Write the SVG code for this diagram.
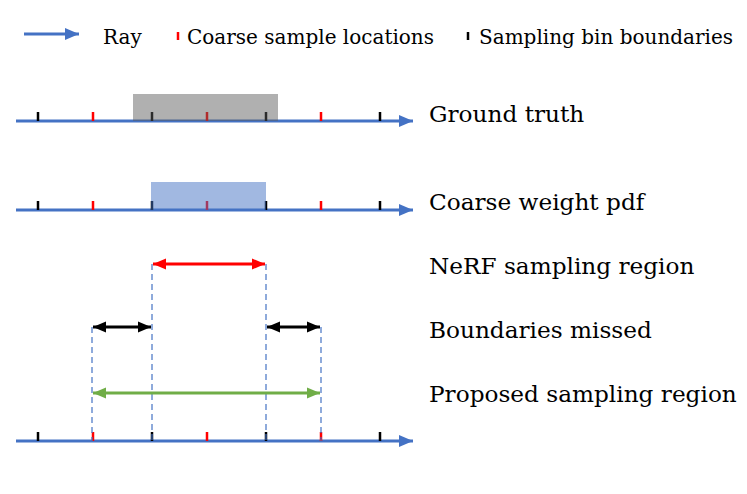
<svg xmlns="http://www.w3.org/2000/svg" width="747" height="494" viewBox="0 0 747 494">
<style>
  .ray{stroke:#4472C4;stroke-width:3;fill:none}
  .tk{stroke:#000;stroke-width:2.5}
  .tr{stroke:#FF0000;stroke-width:2.5}
  .dash{stroke:#4472C4;stroke-width:1.2;stroke-dasharray:6 4;fill:none}
  .lbl{font-family:"DejaVu Serif","Liberation Serif",serif;font-size:23.2px;fill:#000}
  .leg{font-family:"DejaVu Serif","Liberation Serif",serif;font-size:20px;fill:#000}
</style>
<defs>
  <marker id="mb" markerUnits="userSpaceOnUse" markerWidth="15" markerHeight="13" refX="14" refY="6.5" orient="auto"><path d="M0,0.5 L14,6.5 L0,12.5 z" fill="#4472C4"/></marker>
  <marker id="mr" markerUnits="userSpaceOnUse" markerWidth="14" markerHeight="12" refX="13" refY="6" orient="auto-start-reverse"><path d="M0,0.5 L13,6 L0,11.5 z" fill="#FF0000"/></marker>
  <marker id="mk" markerUnits="userSpaceOnUse" markerWidth="14" markerHeight="12" refX="13" refY="6" orient="auto-start-reverse"><path d="M0,0.5 L13,6 L0,11.5 z" fill="#000"/></marker>
  <marker id="mg" markerUnits="userSpaceOnUse" markerWidth="14" markerHeight="12" refX="13" refY="6" orient="auto-start-reverse"><path d="M0,0.5 L13,6 L0,11.5 z" fill="#70AD47"/></marker>
</defs>
<rect width="747" height="494" fill="#fff"/>

<g id="legend">
  <line class="ray" x1="24" y1="34" x2="79" y2="34" marker-end="url(#mb)"/>
  <text class="leg" x="103" y="44">Ray</text>
  <line class="tr" x1="178" y1="32" x2="178" y2="40"/>
  <text class="leg" x="187" y="44">Coarse sample locations</text>
  <line class="tk" x1="468" y1="32" x2="468" y2="40"/>
  <text class="leg" x="479" y="44">Sampling bin boundaries</text>
</g>

<g id="ground-truth">
  <line class="ray" x1="16" y1="121" x2="413" y2="121" marker-end="url(#mb)"/>
  <g>
    <line class="tk" x1="38" y1="112" x2="38" y2="121"/>
    <line class="tr" x1="93" y1="112" x2="93" y2="121"/>
    <line class="tk" x1="152" y1="112" x2="152" y2="121"/>
    <line class="tr" x1="207" y1="112" x2="207" y2="121"/>
    <line class="tk" x1="266" y1="112" x2="266" y2="121"/>
    <line class="tr" x1="321" y1="112" x2="321" y2="121"/>
    <line class="tk" x1="380" y1="112" x2="380" y2="121"/>
  </g>
  <rect x="133" y="94" width="145" height="27" fill="#5a5a5a" fill-opacity="0.48"/>
  <text class="lbl" x="429" y="122">Ground truth</text>
</g>

<g id="coarse-weight-pdf">
  <line class="ray" x1="16" y1="210" x2="413" y2="210" marker-end="url(#mb)"/>
  <g>
    <line class="tk" x1="38" y1="201" x2="38" y2="210"/>
    <line class="tr" x1="93" y1="201" x2="93" y2="210"/>
    <line class="tk" x1="152" y1="201" x2="152" y2="210"/>
    <line class="tr" x1="207" y1="201" x2="207" y2="210"/>
    <line class="tk" x1="266" y1="201" x2="266" y2="210"/>
    <line class="tr" x1="321" y1="201" x2="321" y2="210"/>
    <line class="tk" x1="380" y1="201" x2="380" y2="210"/>
  </g>
  <rect x="151" y="182" width="115" height="28" fill="#4472C4" fill-opacity="0.5"/>
  <text class="lbl" x="429" y="210">Coarse weight pdf</text>
</g>

<g id="bottom-ray">
  <line class="ray" x1="16" y1="441" x2="413" y2="441" marker-end="url(#mb)"/>
  <line class="tk" x1="38" y1="432" x2="38" y2="441"/>
  <line class="tr" x1="93" y1="432" x2="93" y2="441"/>
  <line class="tk" x1="152" y1="432" x2="152" y2="441"/>
  <line class="tr" x1="207" y1="432" x2="207" y2="441"/>
  <line class="tk" x1="266" y1="432" x2="266" y2="441"/>
  <line class="tr" x1="321" y1="432" x2="321" y2="441"/>
  <line class="tk" x1="380" y1="432" x2="380" y2="441"/>
</g>

<g id="nerf-region">
  <text class="lbl" x="429" y="274">NeRF sampling region</text>
</g>
<g id="boundaries-missed">
  <text class="lbl" x="429" y="338">Boundaries missed</text>
</g>
<g id="proposed-region">
  <text class="lbl" x="429" y="402">Proposed sampling region</text>
</g>

<g id="connectors">
  <line class="dash" x1="152" y1="264" x2="152" y2="441"/>
  <line class="dash" x1="266" y1="264" x2="266" y2="441"/>
  <line class="dash" x1="92" y1="327" x2="92" y2="441"/>
  <line class="dash" x1="321" y1="327" x2="321" y2="441"/>
  <line x1="153" y1="264" x2="265" y2="264" stroke="#FF0000" stroke-width="3" marker-start="url(#mr)" marker-end="url(#mr)"/>
  <line x1="93" y1="327" x2="151" y2="327" stroke="#000" stroke-width="3" marker-start="url(#mk)" marker-end="url(#mk)"/>
  <line x1="267" y1="327" x2="320" y2="327" stroke="#000" stroke-width="3" marker-start="url(#mk)" marker-end="url(#mk)"/>
  <line x1="93" y1="393" x2="320" y2="393" stroke="#70AD47" stroke-width="3" marker-start="url(#mg)" marker-end="url(#mg)"/>
</g>
</svg>
